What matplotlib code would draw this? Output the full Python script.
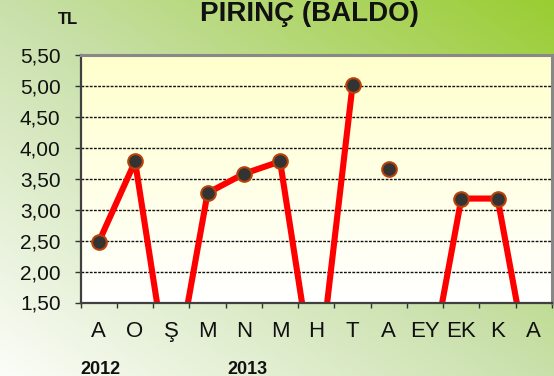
import numpy as np
import matplotlib
matplotlib.use("Agg")
import matplotlib.pyplot as plt
from matplotlib.colors import LinearSegmentedColormap

plt.rcParams["font.family"] = ["Liberation Sans", "DejaVu Sans"]

# Monthly prices (TL); 0 means no price recorded for that month
months = ["A", "O", "Ş", "M", "N", "M", "H", "T", "A", "EY", "EK", "K", "A"]
prices = [2.48, 3.78, 0.0, 3.27, 3.58, 3.78, 0.0, 5.02, 3.65, 0.0, 3.18, 3.18, 0.0]
unlinked = [8]          # month shown as a lone point, not joined to its neighbours
years = ["2012", "2013"]
y_ticks = [1.50, 2.00, 2.50, 3.00, 3.50, 4.00, 4.50, 5.00, 5.50]
title = "PIRINÇ (BALDO)"
unit = "TL"

W, H = 554, 376
fig = plt.figure(figsize=(W / 100, H / 100), dpi=100)

# Figure background: diagonal gradient, pale bottom-left to green top-right
bg = fig.add_axes([0, 0, 1, 1], zorder=0)
bg.set_axis_off()
gx, gy = np.meshgrid(np.linspace(0, 1, 300), np.linspace(0, 1, 200))
t = np.clip((gx + gy) / 2, 0, 1)
bg_cmap = LinearSegmentedColormap.from_list(
    "bg", [(0.0, "#fbfdf8"), (0.5, "#c9e0aa"), (1.0, "#9acd32")])
bg.imshow(t, cmap=bg_cmap, origin="lower", extent=[0, 1, 0, 1],
          aspect="auto", vmin=0, vmax=1)
bg.set_xlim(0, 1)
bg.set_ylim(0, 1)

left, right = 80.7 / W, 552 / W
bottom, top = 1 - 302.5 / H, 1 - 55 / H
ax = fig.add_axes([left, bottom, right - left, top - bottom], zorder=1)

n = len(months)
x = np.arange(n)
ax.set_xlim(-0.5, n - 0.5)
ax.set_ylim(y_ticks[0], y_ticks[-1])

# Plot area: pale yellow fading to white
pa_cmap = LinearSegmentedColormap.from_list("pa", ["#ffffff", "#ffffcc"])
ax.imshow(np.linspace(0, 1, 200).reshape(-1, 1), cmap=pa_cmap, origin="lower",
          extent=[-0.5, n - 0.5, y_ticks[0], y_ticks[-1]], aspect="auto",
          zorder=0)

# Dashed gridlines
for yv in y_ticks[1:-1]:
    ax.axhline(yv, color="#111111", lw=1.0, ls=(0, (2.0, 1.0)), zorder=1)

vals = np.array(prices, dtype=float)
line_vals = vals.copy()
line_vals[unlinked] = np.nan
ax.plot(x, line_vals, color="#ff0000", lw=4.4, solid_capstyle="butt",
        solid_joinstyle="round", zorder=2)
ax.plot(x, vals, ls="none", marker="o", ms=10.5, mfc="#333333",
        mec="#b8420a", mew=1.5, zorder=3)

# Axes frame
for side in ("top", "right"):
    ax.spines[side].set_color("#888888")
    ax.spines[side].set_linewidth(2.2)
for side in ("left", "bottom"):
    ax.spines[side].set_color("#404040")
    ax.spines[side].set_linewidth(1.6)
for s in ax.spines.values():
    s.set_zorder(4)

ax.set_yticks(y_ticks)
ax.set_yticklabels([f"{v:.2f}".replace(".", ",") for v in y_ticks])
ax.tick_params(axis="y", length=4.5, width=1.0, color="#333333",
               labelsize=15, pad=10, labelcolor="#111111")

ax.set_xticks(np.arange(-0.5, n, 1.0))
ax.set_xticklabels([])
ax.tick_params(axis="x", which="major", length=3.5, width=1.0,
               color="#333333")
ax.set_xticks(x, minor=True)
ax.set_xticklabels(months, minor=True)
ax.tick_params(axis="x", which="minor", length=0, labelsize=16, pad=13,
               labelcolor="#111111")

fig.text(309 / W, 1 - 14 / H, title, ha="center", va="center",
         fontsize=20, fontweight="bold", color="#111111")
fig.text(68 / W, 1 - 20 / H, unit, ha="center", va="center",
         fontsize=12, fontweight="bold", color="#111111")
for label, xc in zip(years, [100, 247]):
    fig.text(xc / W, 1 - 369 / H, label, ha="center", va="center",
             fontsize=13, fontweight="bold", color="#111111")

fig.savefig("out.png", dpi=100)
